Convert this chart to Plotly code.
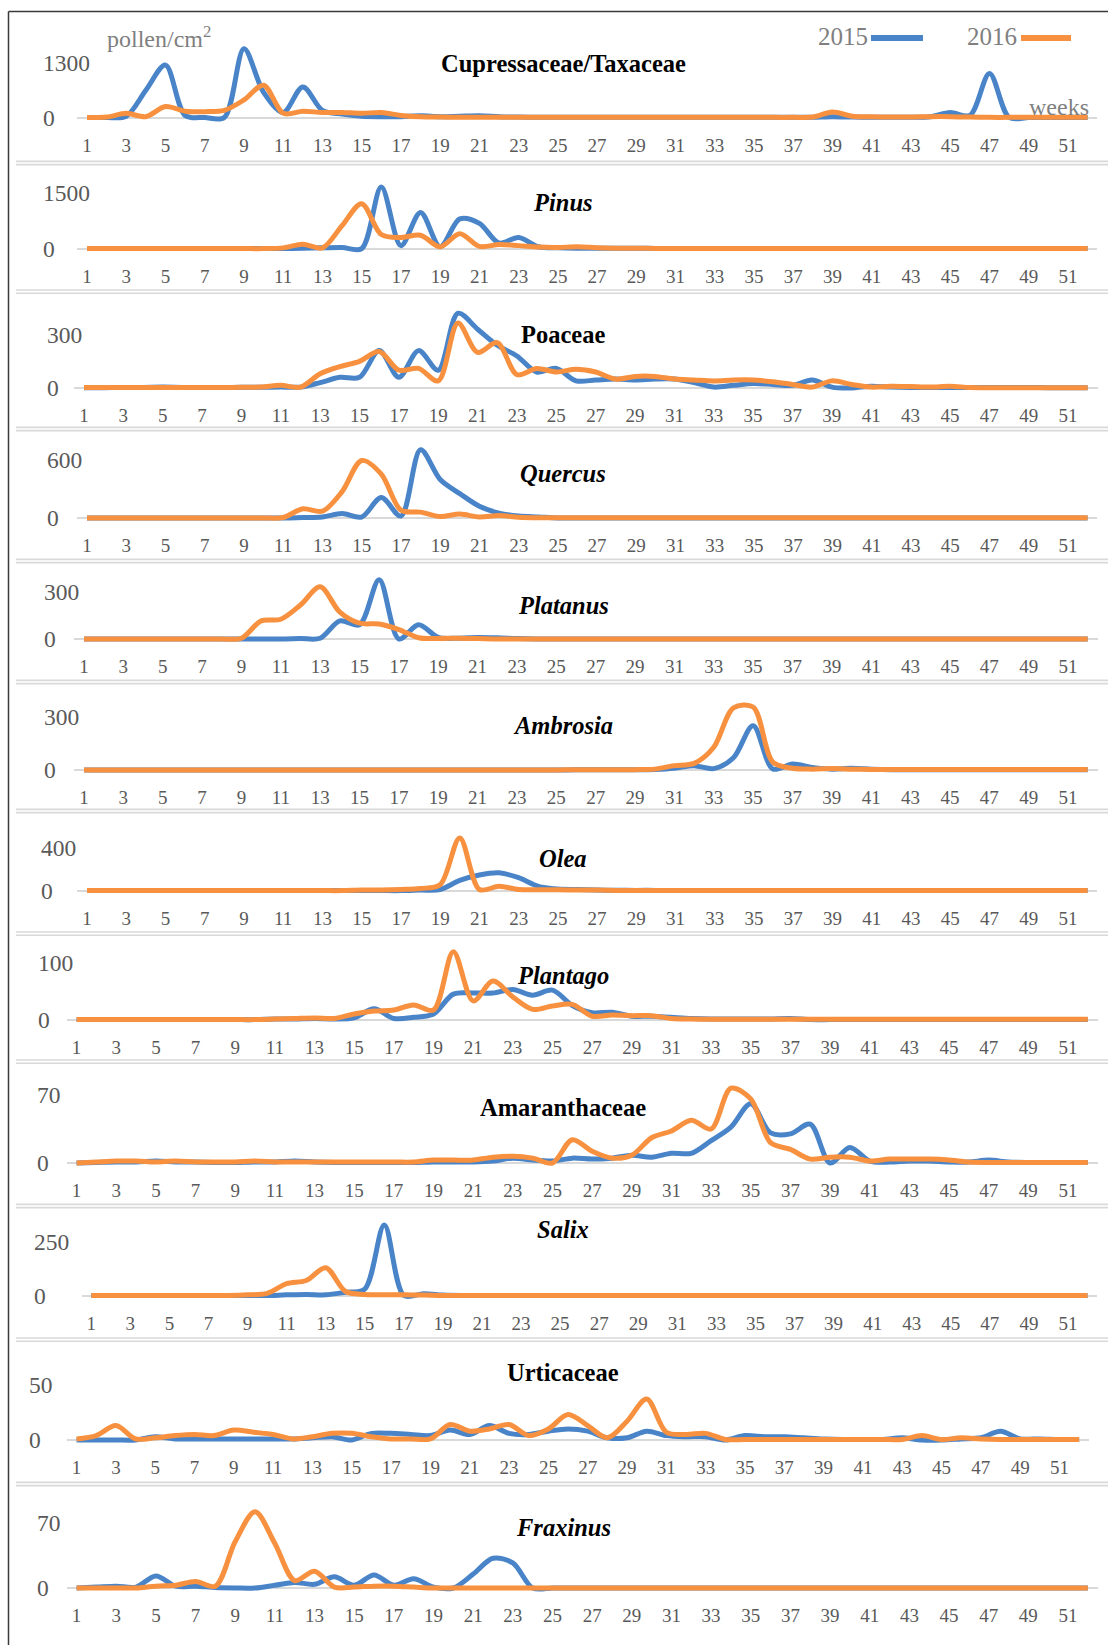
import plotly.graph_objects as go

# ---------------- data ----------------
weeks = list(range(1, 53))
x_tick_vals = list(range(1, 52, 2))
x_tick_text = [str(v) for v in x_tick_vals]
years = ["2015", "2016"]

taxa = ["Cupressaceae/Taxaceae", "Pinus", "Poaceae", "Quercus", "Platanus", "Ambrosia",
        "Olea", "Plantago", "Amaranthaceae", "Salix", "Urticaceae", "Fraxinus"]
italic = [False, True, False, True, True, True, True, True, False, True, False, True]
top_ticks = [1300, 1500, 300, 600, 300, 300, 400, 100, 70, 250, 50, 70]

cup_2015 = [0, 0, 30, 650, 1250, 50, 0, 0, 1640, 600, 120, 730, 170, 80, 30, 20, 20, 40, 20, 30,
            40, 20, 10, 5, 5, 5, 3, 3, 3, 3, 3, 3, 3, 3, 3, 3, 5, 5, 20, 10,
            5, 5, 5, 20, 120, 50, 1050, 0, 0, 0, 0, 0]
cup_2016 = [0, 10, 100, 20, 260, 150, 140, 170, 420, 770, 100, 150, 120, 120, 100, 120, 50, 15, 10, 5,
            3, 3, 3, 3, 3, 3, 3, 3, 3, 3, 3, 3, 3, 3, 3, 3, 3, 10, 130, 30,
            15, 10, 10, 20, 20, 10, 3, 3, 3, 3, 3, 3]

pin_2015 = [0] * 11 + [10, 20, 30, 0, 1660, 80, 975, 50, 800, 680, 150, 300, 50, 20, 10, 10, 10, 10, 5] + [0] * 22
pin_2016 = [0] * 10 + [20, 120, 20, 620, 1210, 380, 300, 360, 50, 400, 60, 110, 80, 40, 30, 50, 20, 10, 10, 5] + [3] * 22

poa_2015 = [2, 2, 3, 3, 5, 3, 3, 3, 4, 4, 5, 5, 30, 60, 60, 210, 60, 210, 100, 420,
            330, 240, 180, 90, 110, 40, 45, 50, 45, 50, 50, 30, 5, 15, 25, 20, 15, 45, 5, 0,
            10, 5, 3, 3, 3, 3, 3, 3, 3, 2, 2, 2]
poa_2016 = [3, 3, 3, 3, 3, 3, 3, 3, 4, 5, 15, 5, 80, 120, 150, 205, 100, 110, 40, 365,
            200, 255, 75, 110, 90, 105, 90, 50, 65, 65, 50, 45, 40, 45, 45, 35, 20, 5, 40, 20,
            5, 10, 8, 5, 10, 3, 2, 2, 2, 2, 2, 2]

que_2015 = [0] * 11 + [5, 10, 45, 10, 210, 20, 700, 395, 250, 120, 50, 20, 10] + [0] * 28
que_2016 = [0] * 10 + [5, 95, 70, 270, 590, 450, 80, 60, 15, 40, 10, 25, 8] + [3] * 29

pla_2015 = [0] * 11 + [3, 5, 115, 90, 375, 0, 90, 10, 5, 10, 8, 3] + [0] * 29
pla_2016 = [0] * 8 + [5, 115, 125, 215, 330, 170, 100, 95, 60, 8, 3, 5, 3] + [0] * 31

amb_2015 = [0] * 25 + [1, 1, 1, 1, 3, 10, 25, 8, 70, 253, 6, 34, 15, 5, 10, 5] + [2] * 11
amb_2016 = [0] * 25 + [2, 2, 2, 2, 5, 25, 38, 130, 355, 360, 45, 10, 5, 8, 5, 3] + [3] * 11

ole_2015 = [0] * 17 + [5, 10, 95, 145, 165, 120, 40, 15, 10, 5, 3, 2, 2] + [0] * 22
ole_2016 = [0] * 14 + [5, 5, 10, 20, 55, 490, 10, 40, 10, 8, 8, 5, 5] + [2] * 25

pln_2015 = [0] * 10 + [1, 1, 2, 1, 3, 19, 2, 4, 10, 45, 47, 47, 53, 43, 52, 25, 12, 13, 6, 6,
                       4, 2, 1, 1, 1, 1, 2] + [0] * 15
pln_2016 = [0] * 10 + [1, 2, 3, 2, 10, 15, 17, 26, 17, 120, 33, 68, 40, 18, 24, 27, 6, 8, 7, 7,
                       2, 1] + [0.5] * 20

ama_2015 = [0, 0.5, 1, 1, 2, 1, 1, 0.5, 0.5, 1, 1, 2, 1, 0.5, 0.5, 0.5, 0.5, 0.5, 1, 1,
            1, 2, 5, 3, 2, 5, 4, 5, 8, 6, 10, 10, 23, 37, 61, 31, 30, 40, 0, 16,
            2, 1, 2, 2, 1, 1, 3, 1, 0.5, 0.5, 0.5, 0.5]
ama_2016 = [0, 1, 2, 2, 1, 2, 1, 1, 1, 2, 1, 1, 1, 1, 1, 1, 1, 1, 3, 3,
            3, 6, 7, 5, 0, 24, 12, 5, 8, 26, 33, 44, 35, 77, 66, 21, 14, 4, 6, 6,
            2, 4, 4, 4, 3, 1, 0.5, 0.5, 0.5, 0.5, 0.5, 0.5]

sal_2015 = [0] * 10 + [3, 5, 3, 15, 30, 330, 0, 8, 2] + [0] * 33
sal_2016 = [0] * 8 + [3, 10, 55, 70, 130, 20, 5, 3, 3, 2] + [0] * 34

urt_2015 = [0, 0, 0, 0, 3, 1, 1, 1, 1, 1, 1, 1, 2, 3, 0, 6, 6, 5, 4, 9,
            5, 13, 6, 5, 8, 10, 8, 2, 2, 8, 4, 3, 3, 0, 4, 3, 3, 2, 1, 0.5,
            0.5, 0.5, 2, 0, 0, 1, 2, 8, 1, 1, 0.5, 0.5]
urt_2016 = [1, 4, 13, 1, 2, 4, 5, 4, 9, 7, 5, 1, 3, 6, 6, 3, 1, 1, 1, 14,
            8, 10, 14, 4, 10, 23, 13, 2, 17, 37, 7, 5, 6, 0.5, 0.5, 0.5, 0.5, 0.5, 0.5, 0.5,
            0.5, 0.5, 0.5, 4, 0.5, 2, 1, 0.5, 0.5, 0.5, 0.5, 0.5]

fra_2015 = [0, 1, 2, 1, 13, 2, 2, 0.5, 0, 0, 3, 6, 4, 12, 3, 14, 3, 10, 1, 0,
            15, 32, 27, 0] + [0] * 28
fra_2016 = [0, 0, 0, 0, 2, 3, 7, 2, 50, 82, 48, 8, 18, 1, 1, 2, 2, 1, 0, 0] + [0] * 32

series_2015 = [cup_2015, pin_2015, poa_2015, que_2015, pla_2015, amb_2015,
               ole_2015, pln_2015, ama_2015, sal_2015, urt_2015, fra_2015]
series_2016 = [cup_2016, pin_2016, poa_2016, que_2016, pla_2016, amb_2016,
               ole_2016, pln_2016, ama_2016, sal_2016, urt_2016, fra_2016]

# ---------------- geometry / style ----------------
W, H = 1108, 1645
zero_px = [117.5, 248.6, 388, 518, 639, 770, 890.6, 1019.6, 1163, 1295.5, 1440, 1588]
tick_px = [63, 193, 334.6, 459.5, 591.6, 717.5, 847.6, 963, 1095, 1242, 1384.7, 1523]
sep_px = [163, 291.6, 429, 561, 682, 811, 933.6, 1061.6, 1206, 1339.6, 1484]
w1_px = [87, 87, 84, 87, 84, 84, 87, 76.6, 76.6, 91.3, 76.6, 76.6]
w51_px = [1068] * 10 + [1059.5, 1068]
ylab_x = [41, 41, 45, 45, 42, 42, 39, 36, 35, 32, 27, 35]
title_y = [64, 202.5, 334.6, 474, 605, 726, 858, 975.6, 1107, 1229.5, 1372, 1527.5]
title_x = 563

BLUE = "#4a84c8"
ORANGE = "#f7913f"
SERIF = "Liberation Serif, Times New Roman, serif"
TICK_GRAY = "#595959"
TEXT_GRAY = "#7f7f7f"
LW = 5

fig = go.Figure()
layout = dict(
    width=W, height=H, autosize=False,
    margin=dict(l=0, r=0, t=0, b=0),
    paper_bgcolor="white", plot_bgcolor="white",
    showlegend=False, font=dict(family=SERIF),
)
annotations = []
shapes = []

for i in range(12):
    sfx = "" if i == 0 else str(i + 1)
    xa, ya = "x" + sfx, "y" + sfx
    w1, w51 = w1_px[i], w51_px[i]
    pw = (w51 - w1) / 50.0
    x0, x1 = w1 - 0.5 * pw, w1 + 51.5 * pw
    top = (sep_px[i - 1] if i > 0 else 12) + 3
    z = zero_px[i]
    bottom = z + 6
    T = top_ticks[i]
    ppu = (z - tick_px[i]) / T
    yr = [-(bottom - z) / ppu, (z - top) / ppu]

    fig.add_trace(go.Scatter(x=weeks, y=series_2015[i], mode="lines", name=years[0],
                             line=dict(color=BLUE, width=LW, shape="spline", smoothing=0.9),
                             xaxis=xa, yaxis=ya, hoverinfo="skip"))
    fig.add_trace(go.Scatter(x=weeks, y=series_2016[i], mode="lines", name=years[1],
                             line=dict(color=ORANGE, width=LW, shape="spline", smoothing=0.9),
                             xaxis=xa, yaxis=ya, hoverinfo="skip"))

    layout["xaxis" + sfx] = dict(
        domain=[x0 / W, x1 / W], range=[0.5, 52.5], anchor=ya,
        tickmode="array", tickvals=x_tick_vals, ticktext=x_tick_text,
        tickfont=dict(family=SERIF, size=19, color=TICK_GRAY),
        ticks="", ticklabelstandoff=8,
        showgrid=False, zeroline=False, showline=False, fixedrange=True,
    )
    layout["yaxis" + sfx] = dict(
        domain=[1 - bottom / H, 1 - top / H], range=yr, anchor=xa,
        showticklabels=False, ticks="", showgrid=False,
        zeroline=True, zerolinecolor="#d9d9d9", zerolinewidth=2,
        showline=False, fixedrange=True,
    )

    # y-axis labels (0 and top tick)
    for v in (0, T):
        annotations.append(dict(
            x=ylab_x[i] / W, xref="paper", y=v, yref=ya,
            text=str(v), showarrow=False, xanchor="left", yanchor="middle",
            font=dict(family=SERIF, size=23.5, color=TICK_GRAY),
        ))

    # panel title
    t = taxa[i]
    txt = "<b><i>%s</i></b>" % t if italic[i] else "<b>%s</b>" % t
    annotations.append(dict(
        x=title_x / W, xref="paper", y=1 - title_y[i] / H, yref="paper",
        text=txt, showarrow=False, xanchor="center", yanchor="middle",
        font=dict(family=SERIF, size=24.5, color="black"),
    ))

# separators (double light-gray lines)
for s in sep_px:
    for dy in (-1.6, 1.6):
        shapes.append(dict(type="line", xref="paper", yref="paper",
                           x0=16 / W, x1=1.0, y0=1 - (s + dy) / H, y1=1 - (s + dy) / H,
                           line=dict(color="#d9d9d9", width=1.6)))

# outer frame (left and top)
shapes.append(dict(type="line", xref="paper", yref="paper", x0=8.5 / W, x1=8.5 / W,
                   y0=0, y1=1 - 11.5 / H, line=dict(color="#3a3a3a", width=1.5)))
shapes.append(dict(type="line", xref="paper", yref="paper", x0=8.5 / W, x1=1.0,
                   y0=1 - 11.5 / H, y1=1 - 11.5 / H, line=dict(color="#3a3a3a", width=1.5)))

# legend
legend_items = [(years[0], BLUE, 843, 871, 923), (years[1], ORANGE, 992, 1021, 1071)]
for label, col, tx, lx0, lx1 in legend_items:
    annotations.append(dict(x=tx / W, xref="paper", y=1 - 37 / H, yref="paper",
                            text=label, showarrow=False, xanchor="center", yanchor="middle",
                            font=dict(family=SERIF, size=25, color=TEXT_GRAY)))
    shapes.append(dict(type="line", xref="paper", yref="paper",
                       x0=lx0 / W, x1=lx1 / W, y0=1 - 38 / H, y1=1 - 38 / H,
                       line=dict(color=col, width=6)))

# unit labels
annotations.append(dict(x=159 / W, xref="paper", y=1 - 37 / H, yref="paper",
                        text="pollen/cm<sup>2</sup>", showarrow=False,
                        xanchor="center", yanchor="middle",
                        font=dict(family=SERIF, size=24, color=TEXT_GRAY)))
annotations.append(dict(x=1091 / W, xref="paper", y=1 - 107 / H, yref="paper",
                        text="weeks", showarrow=False, xanchor="right", yanchor="middle",
                        font=dict(family=SERIF, size=24, color=TEXT_GRAY)))

layout["annotations"] = annotations
layout["shapes"] = shapes
fig.update_layout(**layout)

fig.write_html("out.html",
               config={"displayModeBar": False, "staticPlot": True},
               post_script="document.body.style.margin='0px';document.body.style.padding='0px';")
